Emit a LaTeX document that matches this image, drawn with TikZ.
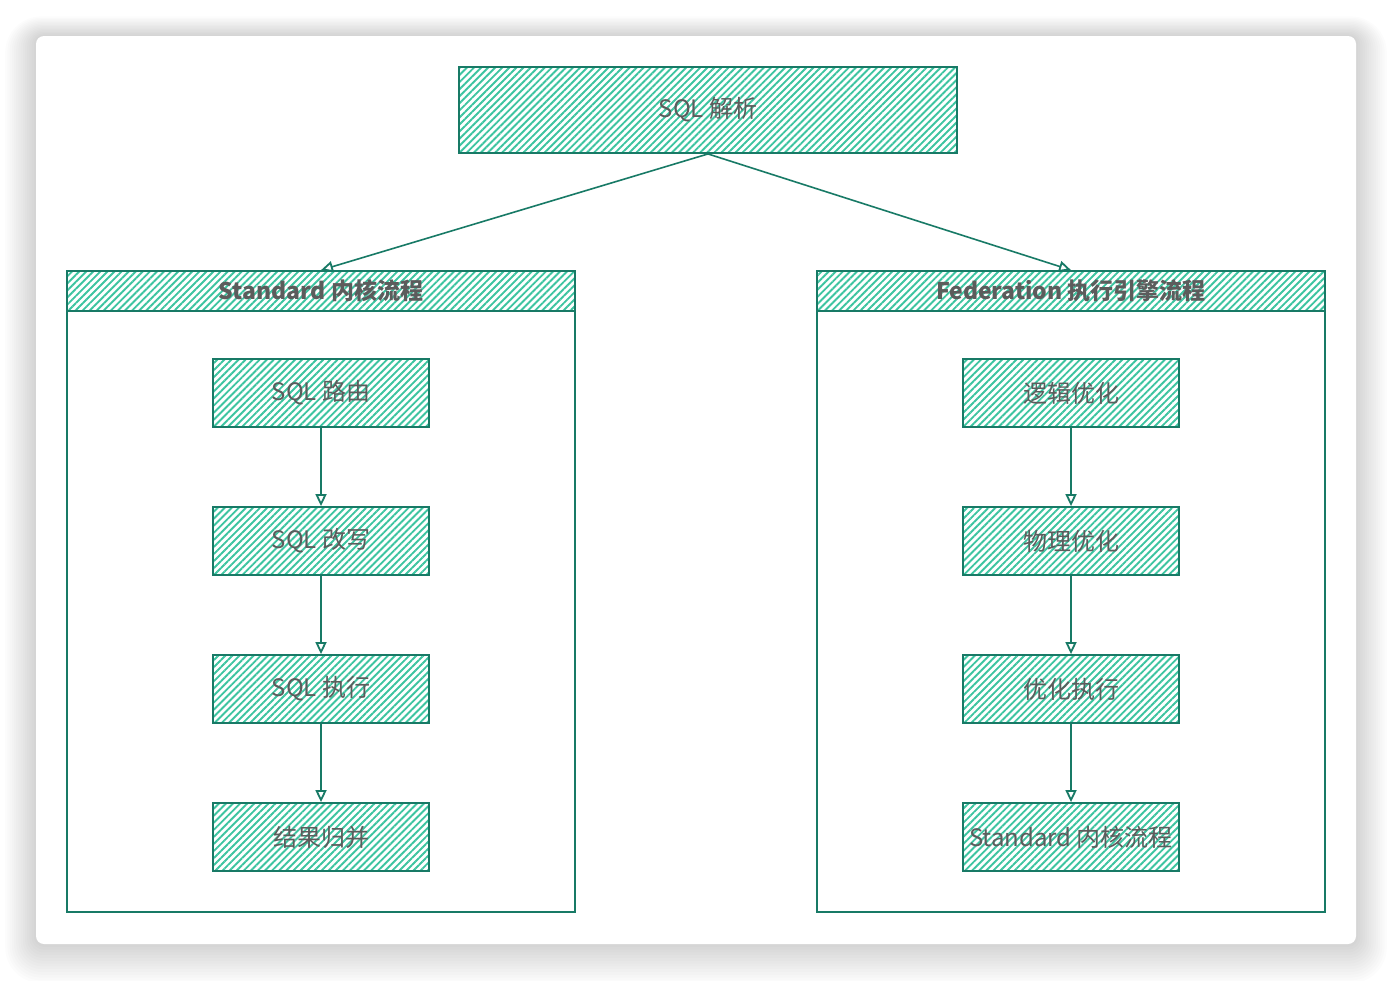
\documentclass[tikz,border=0pt]{standalone}
\usepackage{fontspec}
\setmainfont{Noto Sans CJK SC}
\usepackage{tikz}
\usetikzlibrary{arrows.meta,positioning,calc,patterns.meta}

\definecolor{tealline}{RGB}{24,122,102}
\definecolor{tealhatch}{RGB}{60,196,160}
\definecolor{labelgray}{RGB}{92,92,92}

\tikzset{
    hatchbox/.style={draw=tealline, line width=1.8pt,
        pattern={Lines[angle=45,distance=5pt,line width=1.9pt]},
        pattern color=tealhatch, text=labelgray,
        font=\fontsize{24}{28}\selectfont, inner sep=0pt},
    flowbox/.style={hatchbox, minimum width=216pt, minimum height=68pt},
    lane/.style={draw=tealline, line width=1.6pt, fill=white},
    lanehead/.style={hatchbox, minimum width=508pt, minimum height=40pt,
        font=\fontsize{23}{26}\selectfont\bfseries},
    flow/.style={draw=tealline, line width=1.6pt,
        -{Triangle[open,length=12pt,width=11pt,line width=1.8pt]}}
}

\begin{document}
\begin{tikzpicture}[x=1pt, y=-1pt]
    \useasboundingbox (0,0) rectangle (1392,980);

    % card with soft shadow
    \foreach \i in {1,...,14} {
        \fill[black, opacity=0.010, rounded corners=8+\i*2]
            (36-\i*2.2,36-\i*1.4) rectangle (1356+\i*2.2,944+\i*2.8);
    }
    \fill[white, rounded corners=8] (36,36) rectangle (1356,944);

    % top step
    \node[hatchbox, minimum width=498pt, minimum height=86pt] (parse) at (708,110) {SQL 解析};

    % two lanes
    \draw[lane] (67,271) rectangle (575,912);
    \draw[lane] (817,271) rectangle (1325,912);
    \node[lanehead] (stdhead) at (321,291) {Standard 内核流程};
    \node[lanehead] (fedhead) at (1071,291) {Federation 执行引擎流程};

    % Standard steps
    \node[flowbox] (route)   at (321,393) {SQL 路由};
    \node[flowbox] (rewrite) at (321,541) {SQL 改写};
    \node[flowbox] (execute) at (321,689) {SQL 执行};
    \node[flowbox] (merge)   at (321,837) {结果归并};

    % Federation steps
    \node[flowbox] (logical)  at (1071,393) {逻辑优化};
    \node[flowbox] (physical) at (1071,541) {物理优化};
    \node[flowbox] (optexec)  at (1071,689) {优化执行};
    \node[flowbox] (stdcore)  at (1071,837) {Standard 内核流程};

    % connectors
    \draw[flow] (parse.south) -- (stdhead.north);
    \draw[flow] (parse.south) -- (fedhead.north);
    \draw[flow] (route) -- (rewrite);
    \draw[flow] (rewrite) -- (execute);
    \draw[flow] (execute) -- (merge);
    \draw[flow] (logical) -- (physical);
    \draw[flow] (physical) -- (optexec);
    \draw[flow] (optexec) -- (stdcore);
\end{tikzpicture}
\end{document}
